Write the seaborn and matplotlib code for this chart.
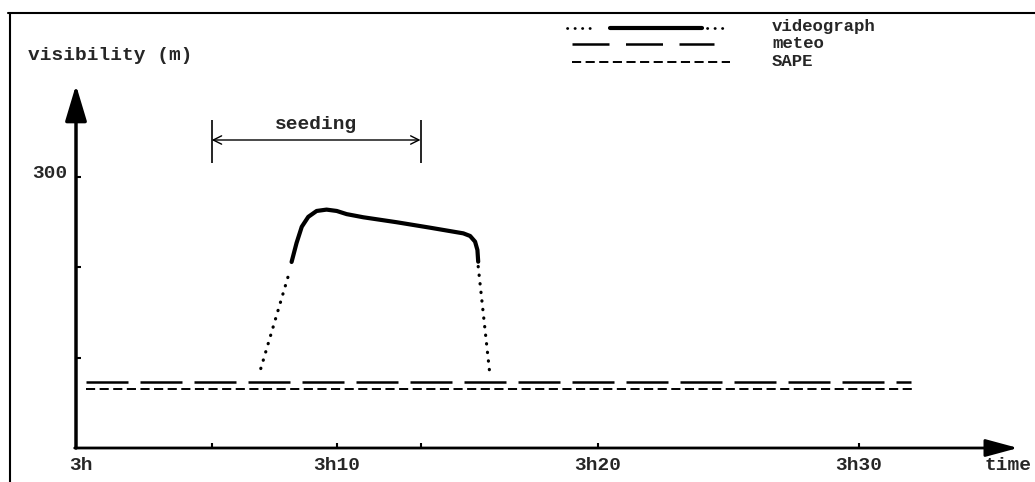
import matplotlib
matplotlib.use("Agg")
import matplotlib.pyplot as plt
import seaborn as sns

# time in minutes after 3h, visibility in metres
time_ticks = [0, 10, 20, 30]
time_labels = ["3h", "3h10", "3h20", "3h30"]
seeding = [5.2, 13.2]
vis_ticks = [100, 200, 300]
vis_label = "300"

# videograph: dotted rise, solid plateau, dotted fall
video_rise_t = [7.08, 8.2]
video_rise_v = [88, 197]
video_t = [8.26, 8.45, 8.65, 8.90, 9.22, 9.60, 9.99, 10.37, 11.01, 12.29,
           13.56, 14.84, 15.10, 15.29, 15.38, 15.41]
video_v = [206, 227, 245, 256, 262.5, 264, 262.5, 259, 255.5, 250,
           244, 237.7, 234.8, 228.5, 219.3, 206.3]
video_fall_t = [15.41, 15.84]
video_fall_v = [201, 86]

meteo_t = [0.38, 32.0]
meteo_v = [73, 73]
sape_t = [0.38, 32.2]
sape_v = [65, 65]

W, H = 1035, 482
X0, Y0 = 76, 448          # pixel position of the origin
SX, SY = 26.1, 0.903      # pixels per minute / per metre

sns.set_theme(style="white")
plt.rcParams['font.family'] = ['Liberation Mono', 'DejaVu Sans']
plt.rcParams['font.weight'] = 'bold'
FS = 14
FS_LEG = 12.5

fig = plt.figure(figsize=(W / 100, H / 100), dpi=100)
ax = fig.add_axes([0, 0, 1, 1])
ax.set_xlim(-X0 / SX, (W - X0) / SX)
ax.set_ylim(-(H - Y0) / SY, Y0 / SY)
ax.axis('off')


def fxy(px, py):
    return px / W, 1 - py / H


dots = (0, (0.1, 2.6))
meteo_ls = (0, (16.8, 4.8))
sape_ls = (0, (4.7, 2.3))

sns.lineplot(x=video_rise_t, y=video_rise_v, ax=ax, color='black', lw=2.3,
             ls=dots, dash_capstyle='round', estimator=None, sort=False)
sns.lineplot(x=video_t, y=video_v, ax=ax, color='black', lw=3.0,
             estimator=None, sort=False, solid_capstyle='round')
sns.lineplot(x=video_fall_t, y=video_fall_v, ax=ax, color='black', lw=2.3,
             ls=dots, dash_capstyle='round', estimator=None, sort=False)
sns.lineplot(x=meteo_t, y=meteo_v, ax=ax, color='black', lw=1.8,
             ls=meteo_ls, estimator=None, sort=False)
sns.lineplot(x=sape_t, y=sape_v, ax=ax, color='black', lw=1.4,
             ls=sape_ls, estimator=None, sort=False)

# axes with arrow heads
arr_y = dict(arrowstyle='-|>,head_length=1.1,head_width=0.33', color='black',
             lw=2.5, mutation_scale=20, shrinkA=0, shrinkB=0)
arr_x = dict(arrowstyle='-|>,head_length=1.0,head_width=0.27', color='black',
             lw=2.0, mutation_scale=20, shrinkA=0, shrinkB=0)
ax.annotate('', xy=(0, (Y0 - 85) / SY), xytext=(0, 0), arrowprops=arr_y)
ax.annotate('', xy=((1018 - X0) / SX, 0), xytext=(-0.05, 0), arrowprops=arr_x)

ax.vlines(time_ticks[1:] + seeding, 0, 5 / SY, color='black', lw=1.5)
ax.hlines(vis_ticks, 0, 5 / SX, color='black', lw=1.5)

for t, lab in zip(time_ticks, time_labels):
    ax.text(t + (5 / SX if t == 0 else 0), -17 / SY, lab, ha='center',
            va='center', fontsize=FS)
ax.text(-9 / SX, vis_ticks[-1] + 4 / SY, vis_label, ha='right', va='center',
        fontsize=FS)
ax.text(*fxy(985, 466), "time", transform=ax.transAxes, ha='left',
        va='center', fontsize=FS)
ax.text(*fxy(28, 56), "visibility (m)", transform=ax.transAxes, ha='left',
        va='center', fontsize=FS)

# seeding bracket
ax.vlines(seeding, (Y0 - 163) / SY, (Y0 - 120) / SY, color='black', lw=1.2)
ax.annotate('', xy=(seeding[0], (Y0 - 140) / SY),
            xytext=(seeding[1], (Y0 - 140) / SY),
            arrowprops=dict(arrowstyle='<->,head_length=0.6,head_width=0.3',
                            color='black', lw=1.0, mutation_scale=10,
                            shrinkA=0, shrinkB=0))
ax.text(sum(seeding) / 2, (Y0 - 125) / SY, "seeding", ha='center',
        va='center', fontsize=FS)

# legend
tr = ax.transAxes
ax.plot(*zip(fxy(567, 28), fxy(595, 28)), color='black', lw=2.0, ls=dots,
        dash_capstyle='round', transform=tr)
ax.plot(*zip(fxy(610, 28), fxy(702, 28)), color='black', lw=3.0, transform=tr)
ax.plot(*zip(fxy(707, 28), fxy(729, 28)), color='black', lw=2.0, ls=dots,
        dash_capstyle='round', transform=tr)
ax.plot(*zip(fxy(572, 44), fxy(714, 44)), color='black', lw=1.8,
        ls=(0, (14.8, 6.6)), transform=tr)
ax.plot(*zip(fxy(572, 62), fxy(730, 62)), color='black', lw=1.4, ls=sape_ls,
        transform=tr)
for py, lab in zip([26, 44, 62], ["videograph", "meteo", "SAPE"]):
    ax.text(*fxy(772, py), lab, transform=tr, ha='left', va='center',
            fontsize=FS_LEG)

# frame of the scanned figure
ax.plot(*zip(fxy(10, H), fxy(10, 13)), color='black', lw=1.5, transform=tr)
ax.plot(*zip(fxy(8, 13), fxy(W, 13)), color='black', lw=1.5, transform=tr)

fig.savefig("out.png", dpi=100)
